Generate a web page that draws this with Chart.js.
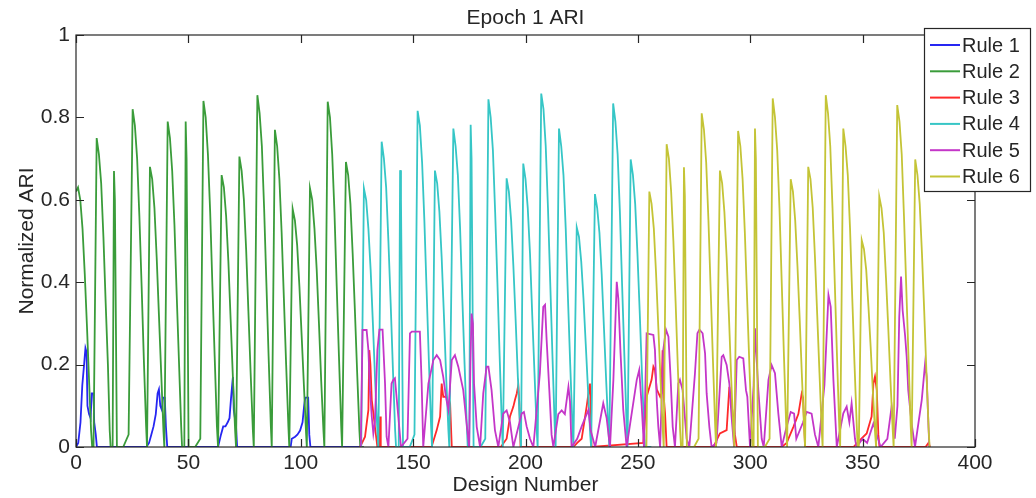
<!DOCTYPE html>
<html>
<head>
<meta charset="utf-8">
<script src="https://cdn.jsdelivr.net/npm/chart.js@4.4.1/dist/chart.umd.min.js"></script>
<style>
  html, body { margin: 0; padding: 0; background: #fff; }
  #wrap { width: 1036px; height: 498px; }
</style>
</head>
<body>
<div id="wrap"><canvas id="ari" width="1036" height="498"></canvas></div>
<script>
// values: [design number, normalized ARI]
var ruleNames = ["Rule 1", "Rule 2", "Rule 3", "Rule 4", "Rule 5", "Rule 6"];
var ruleColors = ["#2626f2", "#3a9c3a", "#ff2a2a", "#36c6c6", "#c436c8", "#c4c436"];
var xTicks = [0, 50, 100, 150, 200, 250, 300, 350, 400];
var yTicks = [0, 0.2, 0.4, 0.6, 0.8, 1];

var rule1 = [
  [0,0],[1,0.01],[2,0.06],[2.8,0.15],[3.6,0.2],[4.2,0.24],[4.7,0.23],[5.1,0.1],[5.8,0.08],[6.5,0.07],[7,0.13],[7.8,0.13],[8.1,0.06],[8.8,0.03],[9.3,0],
  [31.3,0],[32.5,0.01],[33.5,0.03],[34.5,0.05],[35.5,0.08],[36.3,0.13],[36.9,0.14],[37.5,0.1],[38.2,0.09],[38.7,0.12],[39.5,0.12],[40,0.05],[40.6,0],
  [63.2,0],[64.5,0.03],[65.5,0.05],[66.5,0.05],[67.5,0.06],[68.3,0.07],[69,0.12],[69.8,0.17],[70.2,0.09],[70.7,0.07],[71.2,0.05],[71.7,0],
  [95.5,0],[96,0.02],[97.5,0.025],[98.5,0.03],[99.7,0.04],[100.8,0.06],[101.5,0.1],[102,0.12],[103.3,0.12],[103.8,0.03],[104.3,0],[128,0]
];

var rule2 = [
  [0,0.62],[0.9,0.63],[1.9,0.6],[2.9,0.53],[3.9,0.42],[4.9,0.29],[5.9,0.15],[6.7,0.04],[7.2,0],
  [7.8,0],[9.2,0.75],[10.2,0.71],[11.2,0.64],[12.2,0.51],[13.2,0.35],[14.2,0.2],[15,0.04],[15.4,0],
  [16.3,0],[16.9,0.67],[17.3,0.6],[18.2,0],[21,0],[23.4,0.03],
  [25.2,0.82],[26.2,0.78],[27.2,0.7],[28.2,0.56],[29.2,0.39],[30.2,0.21],[31.2,0.05],[31.6,0],
  [32.9,0.68],[33.9,0.65],[34.9,0.58],[35.9,0.46],[36.9,0.32],[37.9,0.18],[38.9,0.04],[39.3,0],
  [40.8,0.79],[41.8,0.75],[42.8,0.67],[43.8,0.54],[44.8,0.37],[45.8,0.21],[46.8,0.05],[47.2,0],
  [48.2,0],[48.8,0.79],[49.2,0.7],[50.1,0],[53,0],[55.3,0.02],
  [56.7,0.84],[57.7,0.8],[58.7,0.71],[59.7,0.57],[60.7,0.39],[61.7,0.22],[62.7,0.05],[63.2,0],
  [64.8,0.66],[65.8,0.63],[66.8,0.56],[67.8,0.45],[68.8,0.31],[69.8,0.17],[70.8,0.04],[71.2,0],
  [72.7,0.705],[73.7,0.67],[74.7,0.6],[75.7,0.48],[76.7,0.33],[77.7,0.18],[78.7,0.04],[79.1,0],
  [80.7,0.854],[81.7,0.81],[82.7,0.73],[83.7,0.58],[84.7,0.4],[85.7,0.22],[86.7,0.05],[87.1,0],
  [88.5,0.77],[89.5,0.73],[90.5,0.65],[91.5,0.52],[92.5,0.36],[93.5,0.2],[94.5,0.05],[94.9,0],
  [96.4,0.578],[97.4,0.55],[98.4,0.49],[99.4,0.39],[100.4,0.27],[101.4,0.15],[102.4,0.03],[102.7,0],
  [104.1,0.628],[105.1,0.6],[106.1,0.53],[107.1,0.43],[108.1,0.3],[109.1,0.16],[110.1,0.04],[110.5,0],
  [112,0.838],[113,0.8],[114,0.71],[115,0.57],[116,0.39],[117,0.22],[118,0.05],[118.4,0],
  [120.1,0.692],[121.1,0.66],[122.1,0.59],[123.1,0.47],[124.1,0.33],[125.1,0.18],[126.1,0.04],[126.5,0],[128,0]
];

var rule3 = [
  [126.4,0],[128.6,0.025],[130.1,0.09],[130.5,0.235],[131,0.2],[131.6,0.114],[132.3,0.082],[133.2,0.04],[134.1,0],[135,0],[135.3,0.074],[135.6,0],
  [158.2,0],[160.5,0.041],[162,0.074],[162.7,0.154],[163.4,0.122],[164.9,0.122],[166,0.09],[166.5,0.1],[167.2,0],
  [189,0],[191.6,0.02],[193.1,0.074],[194.6,0.098],[195.3,0.114],[196.1,0.13],[196.8,0.15],[197.3,0.1],[197.8,0],
  [221.3,0],[223,0.01],[225,0.02],[227.2,0.098],[228,0.13],[228.7,0.154],[229,0.154],[229.4,0],
  [252.4,0.01],[253.9,0.122],[256.1,0.163],[256.9,0.195],[257.6,0.187],[258.4,0.14],[259.9,0.122],[260.5,0.13],[261,0.235],[261.5,0.122],[262.1,0.081],[262.8,0],
  [283.6,0],[286.5,0.033],[289.5,0.041],[290.7,0.146],[291.3,0.12],[292,0.09],[293.2,0.03],[294,0],
  [314,0],[316.2,0.01],[319.2,0.049],[321.4,0.08],[322.9,0.13],[323.5,0.12],[324.4,0],
  [345.9,0],[348.9,0.017],[351.8,0.033],[354,0.074],[354.8,0.154],[355.5,0.171],[356.3,0.138],[357,0.03],[357.5,0],
  [378,0],[379.3,0.01],[380,0]
];

var rule4 = [
  [126.9,0],[128.1,0.628],[129.1,0.6],[130.1,0.53],[131.1,0.43],[132.1,0.3],[133.1,0.16],[134.1,0.04],[134.5,0],
  [136,0.741],[137,0.7],[138,0.63],[139,0.5],[140,0.35],[141,0.19],[142,0.04],[142.4,0],
  [143.6,0],[144.2,0.672],[144.6,0.6],[145.5,0],[148.5,0],[150.6,0.03],
  [152,0.816],[153,0.78],[154,0.69],[155,0.55],[156,0.38],[157,0.21],[158,0.05],[158.4,0],
  [159.7,0.671],[160.7,0.64],[161.7,0.57],[162.7,0.46],[163.7,0.32],[164.7,0.17],[165.7,0.04],[166.1,0],
  [167.9,0.773],[168.9,0.73],[169.9,0.66],[170.9,0.53],[171.9,0.36],[172.9,0.2],[173.9,0.05],[174.3,0],
  [175,0],[175.6,0.782],[176,0.7],[176.9,0],[180,0],[182.1,0.02],
  [183.5,0.844],[184.5,0.8],[185.5,0.72],[186.5,0.57],[187.5,0.4],[188.5,0.22],[189.5,0.05],[189.9,0],
  [191.6,0.652],[192.6,0.62],[193.6,0.55],[194.6,0.44],[195.6,0.31],[196.6,0.17],[197.6,0.04],[198,0],
  [199,0.688],[200,0.65],[201,0.58],[202,0.47],[203,0.32],[204,0.18],[205,0.04],[205.4,0],
  [207,0.858],[208,0.82],[209,0.73],[210,0.58],[211,0.4],[212,0.22],[213,0.05],[213.4,0],
  [214.9,0.773],[215.9,0.73],[216.9,0.66],[217.9,0.53],[218.9,0.36],[219.9,0.2],[220.9,0.05],[221.3,0],
  [222.8,0.533],[223.8,0.51],[224.8,0.45],[225.8,0.36],[226.8,0.25],[227.8,0.14],[228.8,0.03],[229.2,0],
  [230.9,0.614],[231.9,0.58],[232.9,0.52],[233.9,0.42],[234.9,0.29],[235.9,0.16],[236.9,0.04],[237.3,0],
  [239,0.834],[240,0.79],[241,0.71],[242,0.57],[243,0.39],[244,0.22],[245,0.05],[245.4,0],
  [246.8,0.698],[247.8,0.66],[248.8,0.59],[249.8,0.47],[250.8,0.33],[251.8,0.18],[252.8,0.04],[253.2,0],[256,0]
];

var rule5 = [
  [126.7,0],[127.5,0.284],[129.3,0.284],[130.1,0.235],[130.8,0.138],[131.6,0.074],[132.3,0.033],[133,0.06],[134.1,0.235],[135,0.285],[136.4,0.285],[137.5,0.154],[138.2,0.025],[139,0],
  [140.4,0.154],[141.2,0.163],[141.9,0.167],[143.4,0.074],[144.6,0],[147.5,0.02],
  [148.6,0.276],[149.4,0.28],[153,0.28],[153.8,0.154],[154.5,0],
  [156.8,0.154],[159,0.211],[160.5,0.223],[162,0.211],[163.4,0.17],[164.6,0.122],[165.7,0.09],
  [167.2,0.211],[168.6,0.223],[170.1,0.195],[172.3,0.138],[173.8,0.057],[174.9,0],
  [175.5,0.2],[176,0.324],[176.6,0.3],[177.1,0.154],[178.3,0.049],[179.8,0],
  [181.2,0.13],[182.7,0.195],[183.5,0.195],[184.9,0.138],[186.4,0.041],[187.9,0],
  [190.1,0.081],[191.6,0.089],[193.1,0.06],[194.6,0],
  [198.3,0.081],[199.3,0.085],[200.5,0.05],[202,0.02],[203.5,0],
  [206.4,0.179],[207.9,0.34],[208.7,0.345],[209.4,0.26],[210.6,0.138],[211.6,0.03],[212.4,0],
  [214.6,0.08],[216.1,0.089],[217.5,0.08],[219.1,0.146],[219.8,0.11],[220.5,0],
  [223,0.02],[225,0.05],[228,0.09],[229,0.04],[231,0],
  [234.6,0.106],[236.1,0.07],[237.6,0],[239.1,0.163],[240.6,0.401],[241.3,0.36],[242.3,0.227],[243.5,0.09],[245,0],
  [249.5,0.163],[250.6,0.187],[251.7,0.1],[252.7,0],
  [253.9,0.276],[256.9,0.272],[257.6,0.235],[258.4,0.114],[259.1,0.049],[259.9,0],
  [261.3,0.235],[262.5,0.285],[263.6,0.268],[264.6,0.163],[265.5,0.049],[266.5,0],
  [268,0.154],[268.7,0.163],[269.9,0.138],[270.8,0.08],[271.7,0.02],[272.9,0],
  [275.4,0.179],[276.5,0.276],[277.4,0.285],[278.8,0.276],[279.9,0.227],[280.6,0.13],[281.8,0.049],[282.8,0],
  [285,0.01],[286.5,0.146],[287.3,0.219],[288,0.223],[289.5,0.199],[290.7,0.154],[291.7,0.073],[292.8,0],
  [294,0.211],[295.1,0.219],[296.9,0.215],[298.1,0.138],[298.7,0.122],[299.9,0],
  [301.5,0.15],[302.1,0.288],[303.6,0.138],[305.1,0.02],[306,0],
  [308.1,0.163],[309.5,0.199],[311,0.179],[312.5,0.081],[314,0],
  [316.2,0.05],[318,0.085],[319.5,0.081],[320.5,0.02],[322,0.04],[323.5,0.06],[325.1,0.085],[327.3,0.081],[328.8,0.03],[330.3,0],
  [333,0.15],[334.8,0.369],[335.8,0.34],[337,0.163],[338.5,0],
  [341.4,0.082],[342.9,0.098],[344.1,0.06],[345.1,0.106],[346.6,0.02],[347.3,0],
  [350,0.02],[352,0.01],[354.8,0.057],[356.3,0.03],[358,0],[361,0.02],[362.9,0.098],[364.3,0.02],[365.5,0.1],
  [366.3,0.316],[367.1,0.414],[367.8,0.332],[368.9,0.27],[369.6,0.219],[370.3,0.138],[371.8,0.057],[373.3,0],
  [376.3,0.114],[377.8,0.203],[378.5,0.171],[379.3,0.05],[379.7,0]
];

var rule6 = [
  [253.8,0],[255.1,0.62],[256.1,0.59],[257.1,0.53],[258.1,0.42],[259.1,0.29],[260.1,0.16],[261.1,0.04],[261.5,0],
  [262.8,0.735],[263.8,0.7],[264.8,0.62],[265.8,0.5],[266.8,0.35],[267.8,0.19],[268.8,0.04],[269.2,0],
  [269.9,0],[270.5,0.679],[270.9,0.61],[271.8,0],[275,0],[277,0.02],
  [278.4,0.81],[279.4,0.77],[280.4,0.69],[281.4,0.55],[282.4,0.38],[283.4,0.21],[284.4,0.05],[284.8,0],
  [286.5,0.671],[287.5,0.64],[288.5,0.57],[289.5,0.46],[290.5,0.32],[291.5,0.17],[292.5,0.04],[292.9,0],
  [294.6,0.767],[295.6,0.73],[296.6,0.65],[297.6,0.52],[298.6,0.36],[299.6,0.2],[300.6,0.05],[301,0],
  [301.5,0],[302.1,0.773],[302.5,0.7],[303.4,0],[306.5,0],[308.6,0.02],
  [310,0.846],[311,0.8],[312,0.72],[313,0.58],[314,0.4],[315,0.22],[316,0.05],[316.4,0],
  [318,0.65],[319,0.62],[320,0.55],[321,0.44],[322,0.31],[323,0.17],[324,0.04],[324.4,0],
  [325.8,0.68],[326.8,0.65],[327.8,0.58],[328.8,0.46],[329.8,0.32],[330.8,0.18],[331.8,0.04],[332.2,0],
  [333.6,0.854],[334.6,0.81],[335.6,0.73],[336.6,0.58],[337.6,0.4],[338.6,0.22],[339.6,0.05],[340,0],
  [341.4,0.773],[342.4,0.73],[343.4,0.66],[344.4,0.53],[345.4,0.36],[346.4,0.2],[347.4,0.05],[347.8,0],
  [348.3,0],[349.6,0.502],[350.6,0.48],[351.6,0.43],[352.6,0.34],[353.6,0.24],[354.6,0.13],[355.6,0.03],[356,0],
  [357.4,0.608],[358.4,0.58],[359.4,0.52],[360.4,0.41],[361.4,0.29],[362.4,0.16],[363.4,0.04],[363.8,0],
  [365.4,0.83],[366.4,0.79],[367.4,0.71],[368.4,0.56],[369.4,0.39],[370.4,0.22],[371.4,0.05],[371.8,0],
  [373.4,0.698],[374.4,0.66],[375.4,0.59],[376.4,0.47],[377.4,0.33],[378.4,0.18],[379.4,0.04],[379.8,0]
];

var allRules = [rule1, rule2, rule3, rule4, rule5, rule6];
var FONT = "'Liberation Sans', Arial, sans-serif";

function toPoints(arr) {
  return arr.map(function (p) { return { x: p[0], y: p[1] }; });
}

// box, inward ticks on all four sides, title and the matlab style legend
var matlabFrame = {
  id: 'matlabFrame',
  afterDraw: function (chart) {
    var ctx = chart.ctx;
    var a = chart.chartArea;
    var xs = chart.scales.x, ys = chart.scales.y;
    var tl = 8;
    ctx.save();
    ctx.strokeStyle = '#262626';
    ctx.lineWidth = 1.2;
    ctx.strokeRect(a.left, a.top, a.right - a.left, a.bottom - a.top);
    ctx.beginPath();
    xTicks.forEach(function (t) {
      var px = Math.round(xs.getPixelForValue(t)) + 0.5;
      ctx.moveTo(px, a.bottom); ctx.lineTo(px, a.bottom - tl);
      ctx.moveTo(px, a.top); ctx.lineTo(px, a.top + tl);
    });
    yTicks.forEach(function (t) {
      var py = Math.round(ys.getPixelForValue(t)) + 0.5;
      ctx.moveTo(a.left, py); ctx.lineTo(a.left + tl, py);
      ctx.moveTo(a.right, py); ctx.lineTo(a.right - tl, py);
    });
    ctx.stroke();

    ctx.fillStyle = '#262626';
    ctx.font = '21px ' + FONT;
    ctx.textAlign = 'center';
    ctx.textBaseline = 'middle';
    ctx.fillText('Epoch 1 ARI', (a.left + a.right) / 2, 18);

    // legend
    var lx = 924, ly = 28, lw = 106, lh = 163;
    ctx.fillStyle = '#ffffff';
    ctx.fillRect(lx, ly, lw, lh);
    ctx.strokeStyle = '#262626';
    ctx.lineWidth = 1.2;
    ctx.strokeRect(lx + 0.5, ly + 0.5, lw, lh);
    ctx.font = '20px ' + FONT;
    ctx.textAlign = 'left';
    ruleNames.forEach(function (name, i) {
      var cy = 45 + i * 26.3;
      ctx.strokeStyle = ruleColors[i];
      ctx.lineWidth = 2;
      ctx.beginPath();
      ctx.moveTo(930, cy); ctx.lineTo(960, cy);
      ctx.stroke();
      ctx.fillStyle = '#262626';
      ctx.fillText(name, 962, cy + 1);
    });
    ctx.restore();
  }
};

var datasets = allRules.map(function (r, i) {
  return {
    label: ruleNames[i],
    data: toPoints(r),
    borderColor: ruleColors[i],
    backgroundColor: ruleColors[i],
    borderWidth: 1.8,
    pointRadius: 0,
    tension: 0,
    fill: false,
    order: 6 - i
  };
});

new Chart(document.getElementById('ari'), {
  type: 'line',
  data: { datasets: datasets },
  options: {
    responsive: false,
    animation: false,
    devicePixelRatio: 1,
    layout: { padding: { left: 0, right: 61, top: 35, bottom: 0 } },
    plugins: { legend: { display: false }, tooltip: { enabled: false } },
    scales: {
      x: {
        type: 'linear',
        min: 0, max: 400,
        afterFit: function (s) { s.height = 51; },
        afterBuildTicks: function (s) { s.ticks = xTicks.map(function (v) { return { value: v }; }); },
        grid: { display: false, drawTicks: false },
        border: { display: false },
        ticks: { color: '#262626', font: { family: FONT, size: 21 }, padding: 4, maxRotation: 0 },
        title: { display: true, text: 'Design Number', color: '#262626', font: { family: FONT, size: 21 }, padding: { top: 0, bottom: 0 } }
      },
      y: {
        min: 0, max: 1,
        afterFit: function (s) { s.width = 76; },
        afterBuildTicks: function (s) { s.ticks = yTicks.map(function (v) { return { value: v }; }); },
        grid: { display: false, drawTicks: false },
        border: { display: false },
        ticks: { color: '#262626', font: { family: FONT, size: 21 }, padding: 6,
          callback: function (v) { return String(Math.round(v * 10) / 10); } },
        title: { display: true, text: 'Normalized ARI', color: '#262626', font: { family: FONT, size: 21 }, padding: { top: 15, bottom: 0 } }
      }
    }
  },
  plugins: [matlabFrame]
});
</script>
</body>
</html>
